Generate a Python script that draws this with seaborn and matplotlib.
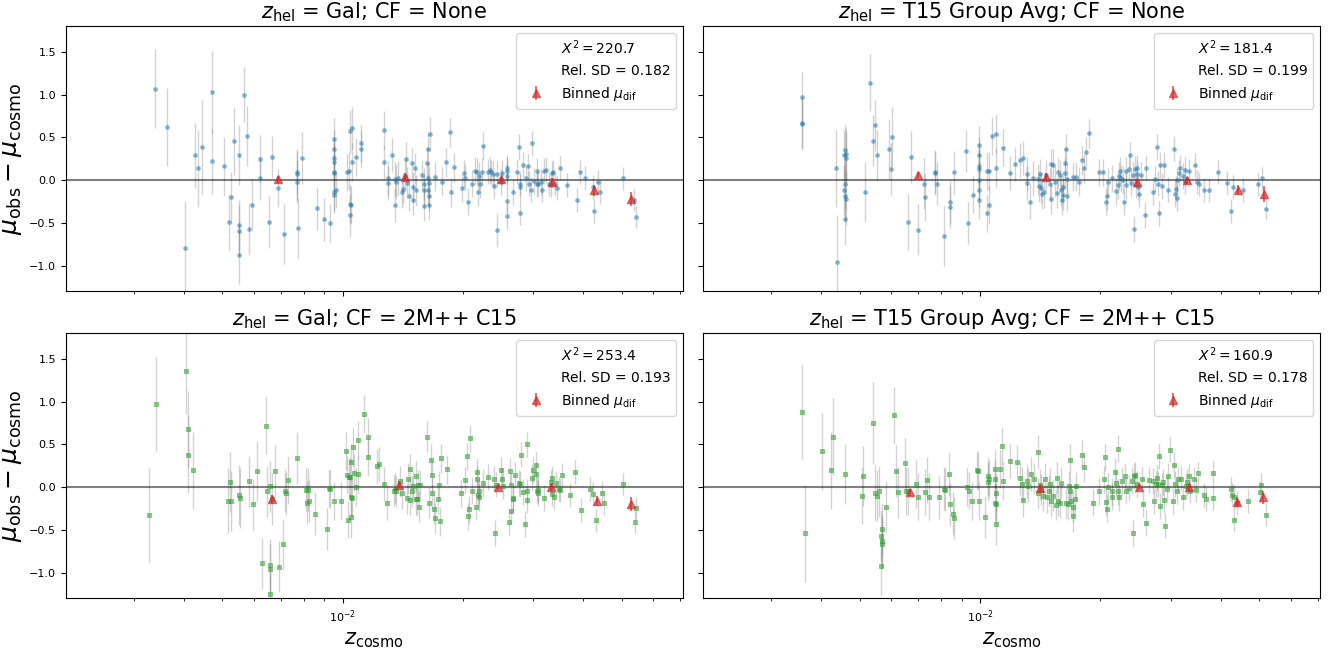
import matplotlib
matplotlib.use("Agg")
import matplotlib.pyplot as plt
import seaborn as sns
import numpy as np

# ---------------------------------------------------------------------------
# Hubble residuals: z_hel = Gal, no flow correction
z_gal_none = [
    0.00339, 0.00364, 0.00404, 0.00426, 0.00434, 0.00444, 0.00470, 0.00470, 0.00504, 0.00520,
    0.00525, 0.00536, 0.00550, 0.00550, 0.00550, 0.00550, 0.00565, 0.00575, 0.00584, 0.00592,
    0.00620, 0.00622, 0.00656, 0.00665, 0.00690, 0.00714, 0.00767, 0.00769, 0.00767, 0.00775,
    0.00792, 0.00865, 0.00897, 0.00928, 0.00954, 0.00954, 0.00954, 0.00954, 0.00954, 0.00954,
    0.00954, 0.00954, 0.00962, 0.01029, 0.01037, 0.01042, 0.01056, 0.01056, 0.01042, 0.01045,
    0.01048, 0.01081, 0.01110, 0.01110, 0.01270, 0.01267, 0.01303, 0.01303, 0.01327, 0.01352,
    0.01352, 0.01358, 0.01376, 0.01409, 0.01420, 0.01442, 0.01431, 0.01449, 0.01469, 0.01491,
    0.01499, 0.01499, 0.01515, 0.01527, 0.01583, 0.01596, 0.01604, 0.01604, 0.01625, 0.01638,
    0.01638, 0.01638, 0.01642, 0.01646, 0.01646, 0.01659, 0.01703, 0.01770, 0.01817, 0.01860,
    0.01869, 0.01904, 0.01990, 0.02016, 0.02031, 0.02058, 0.02112, 0.02145, 0.02168, 0.02184,
    0.02196, 0.02208, 0.02231, 0.02242, 0.02313, 0.02337, 0.02355, 0.02380, 0.02398, 0.02430,
    0.02442, 0.02493, 0.02513, 0.02579, 0.02586, 0.02586, 0.02586, 0.02586, 0.02675, 0.02738,
    0.02759, 0.02774, 0.02774, 0.02788, 0.02825, 0.02884, 0.02914, 0.02937, 0.02960, 0.02975,
    0.03014, 0.03061, 0.03061, 0.03093, 0.03142, 0.03167, 0.03200, 0.03233, 0.03283, 0.03318,
    0.03353, 0.03370, 0.03397, 0.03441, 0.03495, 0.03643, 0.03857, 0.03939, 0.04053, 0.04247,
    0.04257, 0.04369, 0.04403, 0.05052, 0.05378, 0.05419,
]
mu_gal_none = [
    1.07, 0.62, -0.79, 0.29, 0.14, 0.39, 1.03, 0.22, 0.16, -0.49,
    -0.20, 0.46, 0.29, -0.53, -0.59, -0.87, 1.00, 0.52, -0.57, -0.29,
    0.25, 0.02, -0.49, 0.27, -0.09, -0.63, 0.07, 0.09, -0.02, -0.56,
    0.26, -0.33, -0.46, -0.50, 0.48, 0.37, 0.26, 0.21, 0.09, 0.08,
    -0.14, -0.17, -0.11, 0.09, 0.11, 0.57, 0.61, 0.21, -0.28, -0.41,
    -0.29, 0.27, 0.43, 0.36, 0.59, 0.21, 0.02, -0.03, 0.29, -0.29,
    0.01, -0.02, 0.02, -0.14, -0.10, 0.25, 0.05, -0.03, -0.18, 0.20,
    -0.08, -0.23, 0.14, -0.12, 0.06, -0.04, -0.12, -0.30, 0.20, 0.36,
    0.02, -0.11, -0.18, -0.03, -0.29, 0.54, 0.04, -0.02, 0.21, 0.56,
    -0.14, 0.15, -0.09, 0.08, 0.03, -0.25, -0.04, 0.11, 0.10, -0.14,
    0.05, -0.05, 0.10, 0.40, 0.10, 0.12, 0.09, 0.07, -0.07, -0.58,
    0.07, -0.02, 0.08, -0.42, 0.14, 0.11, 0.05, -0.24, -0.14, 0.10,
    0.39, -0.04, -0.38, -0.08, 0.18, 0.02, 0.16, -0.04, -0.11, 0.43,
    -0.01, 0.11, -0.05, -0.04, -0.02, -0.11, 0.11, 0.12, -0.04, -0.06,
    0.08, 0.10, -0.04, -0.09, 0.14, -0.06, -0.23, 0.09, 0.02, -0.08,
    -0.36, -0.02, -0.14, 0.02, -0.23, -0.43,
]
err_gal_none = [
    0.46, 0.46, 0.55, 0.38, 0.45, 0.55, 0.48, 0.38, 0.35, 0.33,
    0.30, 0.40, 0.35, 0.30, 0.30, 0.35, 0.32, 0.35, 0.30, 0.30,
    0.28, 0.25, 0.30, 0.25, 0.22, 0.35, 0.30, 0.25, 0.25, 0.35,
    0.30, 0.25, 0.25, 0.22, 0.25, 0.22, 0.22, 0.22, 0.22, 0.22,
    0.22, 0.22, 0.22, 0.22, 0.22, 0.25, 0.25, 0.22, 0.22, 0.25,
    0.22, 0.22, 0.22, 0.22, 0.22, 0.20, 0.20, 0.20, 0.20, 0.20,
    0.20, 0.20, 0.20, 0.18, 0.18, 0.20, 0.18, 0.18, 0.18, 0.18,
    0.18, 0.18, 0.18, 0.18, 0.18, 0.18, 0.18, 0.18, 0.18, 0.20,
    0.18, 0.18, 0.18, 0.18, 0.18, 0.20, 0.17, 0.17, 0.17, 0.17,
    0.17, 0.17, 0.16, 0.16, 0.16, 0.16, 0.16, 0.16, 0.16, 0.16,
    0.16, 0.16, 0.16, 0.16, 0.15, 0.15, 0.15, 0.15, 0.15, 0.20,
    0.15, 0.15, 0.15, 0.15, 0.15, 0.15, 0.15, 0.15, 0.15, 0.15,
    0.15, 0.15, 0.15, 0.15, 0.15, 0.15, 0.15, 0.15, 0.15, 0.15,
    0.15, 0.15, 0.15, 0.15, 0.15, 0.15, 0.15, 0.15, 0.14, 0.14,
    0.14, 0.14, 0.14, 0.14, 0.14, 0.14, 0.14, 0.14, 0.14, 0.14,
    0.14, 0.14, 0.14, 0.13, 0.13, 0.13,
]
zb_gal_none = [0.00690, 0.01431, 0.02487, 0.03353, 0.04257, 0.05266]
mub_gal_none = [0.01, 0.04, 0.01, -0.02, -0.12, -0.22]
errb_gal_none = [0.04, 0.04, 0.03, 0.04, 0.06, 0.08]

# ---------------------------------------------------------------------------
# z_hel = T15 group average, no flow correction
z_grp_none = [
    0.003575, 0.003583, 0.003592, 0.004356, 0.004378, 0.004557, 0.004592, 0.004614, 0.004614, 0.004592,
    0.004568, 0.004592, 0.004614, 0.004580, 0.005152, 0.005296, 0.005403, 0.005470, 0.005526, 0.005911,
    0.005971, 0.006016, 0.006600, 0.006700, 0.007009, 0.007222, 0.007278, 0.007690, 0.007709, 0.007786,
    0.008125, 0.008414, 0.008414, 0.008606, 0.009231, 0.009301, 0.009583, 0.009950, 0.009950, 0.009950,
    0.009950, 0.009950, 0.009950, 0.009950, 0.010435, 0.010512, 0.010435, 0.010512, 0.010698, 0.010970,
    0.010970, 0.011419, 0.011885, 0.012218, 0.012620, 0.012778, 0.013070, 0.013103, 0.013335, 0.013570,
    0.013951, 0.014019, 0.014090, 0.014198, 0.014267, 0.014486, 0.014629, 0.014925, 0.015038, 0.015077,
    0.015265, 0.015417, 0.015574, 0.015654, 0.015849, 0.015929, 0.016006, 0.016128, 0.016169, 0.016293,
    0.016331, 0.016456, 0.016540, 0.016540, 0.017042, 0.017342, 0.017737, 0.018005, 0.018234, 0.018369,
    0.018694, 0.019852, 0.020356, 0.020611, 0.020768, 0.020927, 0.021400, 0.021944, 0.022111, 0.022218,
    0.022444, 0.022558, 0.022841, 0.022957, 0.023186, 0.023245, 0.023596, 0.023714, 0.023895, 0.024194,
    0.024317, 0.024434, 0.024621, 0.024746, 0.024746, 0.024871, 0.025055, 0.025310, 0.025948, 0.026014,
    0.027077, 0.027354, 0.027696, 0.027837, 0.028114, 0.028257, 0.028467, 0.028830, 0.029486, 0.030615,
    0.030692, 0.030919, 0.031076, 0.031155, 0.031465, 0.031623, 0.032263, 0.032509, 0.032666, 0.033327,
    0.034603, 0.034956, 0.035393, 0.036291, 0.037393, 0.039508, 0.041441, 0.042494, 0.042917, 0.045463,
    0.049744, 0.050881, 0.051910,
]
mu_grp_none = [
    0.97, 0.67, 0.66, 0.14, -0.96, 0.29, 0.35, 0.31, 0.26, -0.04,
    -0.12, -0.18, -0.22, -0.46, -0.14, 1.14, 0.46, 0.64, 0.29, 0.36,
    0.13, 0.50, -0.49, 0.27, -0.58, -0.04, -0.20, 0.10, 0.08, -0.04,
    -0.65, -0.26, -0.31, 0.09, 0.34, -0.50, -0.17, 0.41, 0.29, 0.17,
    0.13, 0.00, -0.11, -0.23, 0.11, 0.11, -0.39, -0.29, 0.52, 0.54,
    0.14, 0.38, 0.08, 0.19, 0.24, 0.26, 0.07, -0.03, -0.25, 0.02,
    0.01, -0.07, 0.07, -0.09, -0.16, -0.14, 0.06, -0.04, -0.22, 0.19,
    0.18, -0.02, -0.15, 0.09, 0.06, -0.12, -0.23, -0.17, -0.08, 0.20,
    0.08, 0.36, -0.18, 0.01, 0.04, 0.04, -0.02, 0.23, 0.14, 0.33,
    0.55, 0.09, 0.09, -0.25, -0.19, -0.02, 0.02, -0.13, -0.06, 0.05,
    0.11, 0.02, 0.00, -0.25, -0.06, 0.11, 0.13, 0.30, -0.03, 0.06,
    -0.57, 0.13, -0.06, 0.07, 0.14, -0.08, -0.16, 0.06, -0.41, 0.14,
    -0.14, 0.01, 0.39, -0.04, -0.39, 0.18, -0.07, 0.18, -0.11, 0.37,
    -0.16, -0.10, 0.00, -0.21, 0.08, 0.14, 0.05, 0.12, -0.01, 0.11,
    0.18, -0.02, -0.04, -0.12, -0.11, 0.10, -0.03, -0.36, -0.08, -0.11,
    -0.05, 0.02, -0.34,
]
err_grp_none = [
    0.30, 0.30, 0.30, 0.45, 0.55, 0.30, 0.30, 0.30, 0.30, 0.30,
    0.30, 0.30, 0.30, 0.30, 0.35, 0.33, 0.30, 0.30, 0.30, 0.35,
    0.30, 0.35, 0.33, 0.30, 0.30, 0.30, 0.28, 0.25, 0.25, 0.25,
    0.35, 0.25, 0.25, 0.25, 0.25, 0.25, 0.22, 0.22, 0.22, 0.22,
    0.22, 0.22, 0.22, 0.22, 0.22, 0.22, 0.22, 0.22, 0.22, 0.22,
    0.22, 0.22, 0.20, 0.20, 0.20, 0.20, 0.20, 0.20, 0.20, 0.20,
    0.18, 0.18, 0.18, 0.18, 0.18, 0.18, 0.18, 0.18, 0.18, 0.18,
    0.18, 0.18, 0.18, 0.18, 0.18, 0.18, 0.18, 0.18, 0.18, 0.18,
    0.18, 0.18, 0.18, 0.18, 0.17, 0.17, 0.17, 0.17, 0.17, 0.17,
    0.17, 0.16, 0.16, 0.16, 0.16, 0.16, 0.16, 0.16, 0.16, 0.16,
    0.16, 0.16, 0.16, 0.16, 0.16, 0.16, 0.15, 0.15, 0.15, 0.15,
    0.15, 0.15, 0.15, 0.15, 0.15, 0.15, 0.15, 0.15, 0.15, 0.15,
    0.15, 0.15, 0.15, 0.15, 0.15, 0.15, 0.15, 0.15, 0.15, 0.15,
    0.15, 0.15, 0.15, 0.15, 0.15, 0.15, 0.15, 0.15, 0.15, 0.14,
    0.14, 0.14, 0.14, 0.14, 0.14, 0.14, 0.14, 0.14, 0.14, 0.14,
    0.13, 0.13, 0.13,
]
zb_grp_none = [0.006974, 0.014592, 0.024746, 0.032999, 0.044116, 0.051399]
mub_grp_none = [0.06, 0.04, -0.02, 0.00, -0.11, -0.16]
errb_grp_none = [0.04, 0.04, 0.03, 0.04, 0.05, 0.09]

# ---------------------------------------------------------------------------
# z_hel = Gal, 2M++ C15 flow correction
z_gal_2mpp = [
    0.00328, 0.00342, 0.00406, 0.00411, 0.00411, 0.00422, 0.00517, 0.00523, 0.00525, 0.00552,
    0.00555, 0.00584, 0.00598, 0.00612, 0.00628, 0.00643, 0.00648, 0.00657, 0.00657, 0.00657,
    0.00660, 0.00665, 0.00676, 0.00692, 0.00710, 0.00719, 0.00723, 0.00730, 0.00769, 0.00810,
    0.00819, 0.00815, 0.00825, 0.00854, 0.00916, 0.00923, 0.00928, 0.00952, 0.00992, 0.01021,
    0.01024, 0.01034, 0.01037, 0.01045, 0.01050, 0.01053, 0.01053, 0.01056, 0.01062, 0.01067,
    0.01081, 0.01095, 0.01095, 0.01133, 0.01156, 0.01156, 0.01221, 0.01237, 0.01270, 0.01293,
    0.01348, 0.01355, 0.01362, 0.01394, 0.01409, 0.01446, 0.01461, 0.01472, 0.01476, 0.01491,
    0.01503, 0.01523, 0.01531, 0.01535, 0.01547, 0.01551, 0.01559, 0.01629, 0.01642, 0.01663,
    0.01672, 0.01677, 0.01698, 0.01707, 0.01738, 0.01747, 0.01752, 0.01761, 0.01831, 0.01979,
    0.02031, 0.02047, 0.02058, 0.02069, 0.02090, 0.02112, 0.02156, 0.02168, 0.02173, 0.02179,
    0.02190, 0.02201, 0.02248, 0.02313, 0.02392, 0.02405, 0.02417, 0.02493, 0.02507, 0.02526,
    0.02606, 0.02633, 0.02640, 0.02647, 0.02668, 0.02675, 0.02696, 0.02759, 0.02788, 0.02803,
    0.02825, 0.02862, 0.02899, 0.02899, 0.02891, 0.02975, 0.03006, 0.03046, 0.03054, 0.03061,
    0.03078, 0.03093, 0.03200, 0.03335, 0.03353, 0.03353, 0.03388, 0.03423, 0.03476, 0.03513,
    0.03550, 0.03710, 0.03817, 0.03949, 0.04170, 0.04247, 0.04302, 0.04461, 0.04519, 0.05039,
    0.05405, 0.05434,
]
mu_gal_2mpp = [
    -0.33, 0.97, 1.36, 0.68, 0.38, 0.20, -0.16, 0.06, -0.16, -0.09,
    -0.13, 0.07, -0.20, 0.19, -0.89, 0.72, -0.05, -0.91, -0.96, -1.25,
    0.01, -0.14, 0.19, -0.93, -0.67, -0.04, -0.07, 0.08, 0.34, -0.03,
    -0.03, -0.18, -0.16, -0.31, -0.49, -0.01, -0.02, -0.16, -0.16, 0.42,
    0.14, -0.38, 0.12, 0.12, -0.35, 0.29, -0.11, -0.13, 0.47, 0.17,
    0.00, 0.15, 0.55, 0.86, 0.59, 0.35, 0.25, 0.27, 0.04, -0.18,
    -0.04, -0.01, -0.05, 0.07, -0.07, -0.13, 0.10, 0.21, -0.15, -0.05,
    0.01, -0.14, 0.13, -0.14, 0.02, -0.23, 0.02, 0.59, -0.18, 0.32,
    0.14, -0.07, -0.25, -0.36, -0.14, 0.02, -0.40, 0.34, 0.21, -0.07,
    0.08, 0.36, -0.34, -0.26, 0.57, -0.04, -0.23, 0.18, 0.09, -0.09,
    -0.12, -0.05, 0.05, 0.12, 0.10, -0.54, 0.03, 0.20, 0.09, 0.01,
    -0.41, 0.19, -0.28, 0.02, -0.13, -0.14, 0.14, 0.05, 0.04, 0.38,
    -0.06, -0.43, 0.50, -0.15, -0.05, 0.11, 0.20, 0.26, 0.15, -0.04,
    -0.07, -0.02, -0.13, 0.06, 0.11, -0.08, -0.12, 0.05, -0.02, -0.03,
    0.14, -0.09, 0.18, -0.27, -0.02, -0.08, -0.38, -0.07, -0.19, 0.04,
    -0.41, -0.24,
]
err_gal_2mpp = [
    0.55, 0.55, 0.50, 0.45, 0.45, 0.45, 0.38, 0.35, 0.35, 0.35,
    0.35, 0.30, 0.30, 0.35, 0.30, 0.33, 0.30, 0.30, 0.30, 0.30,
    0.30, 0.30, 0.30, 0.30, 0.30, 0.25, 0.25, 0.28, 0.30, 0.25,
    0.25, 0.25, 0.25, 0.25, 0.25, 0.22, 0.22, 0.22, 0.22, 0.22,
    0.22, 0.22, 0.22, 0.22, 0.25, 0.22, 0.22, 0.22, 0.22, 0.22,
    0.22, 0.22, 0.22, 0.22, 0.22, 0.22, 0.20, 0.20, 0.20, 0.20,
    0.18, 0.18, 0.18, 0.18, 0.18, 0.18, 0.18, 0.18, 0.18, 0.18,
    0.18, 0.18, 0.18, 0.18, 0.18, 0.18, 0.18, 0.18, 0.18, 0.18,
    0.18, 0.18, 0.18, 0.18, 0.17, 0.17, 0.17, 0.17, 0.17, 0.16,
    0.16, 0.16, 0.16, 0.16, 0.16, 0.16, 0.16, 0.16, 0.16, 0.16,
    0.16, 0.16, 0.16, 0.15, 0.15, 0.15, 0.15, 0.15, 0.15, 0.15,
    0.15, 0.15, 0.15, 0.15, 0.15, 0.15, 0.15, 0.15, 0.15, 0.15,
    0.15, 0.15, 0.15, 0.15, 0.15, 0.15, 0.15, 0.15, 0.15, 0.15,
    0.15, 0.15, 0.15, 0.14, 0.14, 0.14, 0.14, 0.14, 0.14, 0.14,
    0.14, 0.14, 0.14, 0.14, 0.14, 0.14, 0.14, 0.14, 0.14, 0.13,
    0.13, 0.13,
]
zb_gal_2mpp = [0.00665, 0.01387, 0.02455, 0.03335, 0.04335, 0.05281]
mub_gal_2mpp = [-0.14, 0.03, 0.00, 0.00, -0.16, -0.20]
errb_gal_2mpp = [0.05, 0.04, 0.03, 0.04, 0.06, 0.08]

# ---------------------------------------------------------------------------
# z_hel = T15 group average, 2M++ C15 flow correction
z_grp_2mpp = [
    0.003575, 0.003638, 0.004030, 0.004238, 0.004280, 0.004580, 0.005075, 0.005101, 0.005403, 0.005444,
    0.005512, 0.005581, 0.005652, 0.005666, 0.005666, 0.005694, 0.005652, 0.005809, 0.006092, 0.006153,
    0.006231, 0.006469, 0.006517, 0.006600, 0.006904, 0.006991, 0.007278, 0.007369, 0.007461, 0.007904,
    0.008104, 0.008185, 0.008372, 0.008414, 0.008541, 0.008628, 0.009277, 0.009393, 0.009559, 0.009826,
    0.009900, 0.009950, 0.010304, 0.010461, 0.010512, 0.010488, 0.010914, 0.010914, 0.010942, 0.010914,
    0.010942, 0.010942, 0.011220, 0.011361, 0.011390, 0.011853, 0.012340, 0.012620, 0.012714, 0.012778,
    0.013070, 0.013170, 0.013403, 0.013674, 0.013951, 0.013951, 0.014090, 0.014198, 0.014376, 0.014555,
    0.014666, 0.014850, 0.014962, 0.015038, 0.015226, 0.015456, 0.015614, 0.015693, 0.015849, 0.015929,
    0.016414, 0.016582, 0.016662, 0.016747, 0.016788, 0.016916, 0.017042, 0.017042, 0.017298, 0.017386,
    0.018005, 0.018234, 0.019170, 0.019903, 0.020408, 0.020559, 0.020716, 0.020768, 0.020927, 0.021346,
    0.021454, 0.021777, 0.021888, 0.022111, 0.022167, 0.022331, 0.022726, 0.023015, 0.023245, 0.023596,
    0.023950, 0.024133, 0.024317, 0.024496, 0.024746, 0.025498, 0.025627, 0.026080, 0.026540, 0.027077,
    0.027285, 0.027556, 0.027767, 0.027908, 0.028114, 0.028257, 0.028467, 0.028684, 0.028830, 0.028973,
    0.029411, 0.029561, 0.029931, 0.030383, 0.030615, 0.030841, 0.031076, 0.031313, 0.031864, 0.032263,
    0.032749, 0.032999, 0.033327, 0.033497, 0.034262, 0.034779, 0.035044, 0.036291, 0.036837, 0.038247,
    0.038247, 0.042387, 0.042808, 0.043135, 0.043351, 0.043893, 0.046738, 0.050251, 0.050624, 0.051910,
]
mu_grp_2mpp = [
    0.88, -0.54, 0.42, 0.20, 0.59, 0.15, -0.10, 0.13, 0.75, -0.07,
    -0.10, -0.05, -0.57, -0.49, -0.63, -0.66, -0.92, -0.23, 0.84, 0.19,
    -0.06, 0.28, -0.05, -0.04, 0.04, -0.11, -0.06, 0.08, -0.11, -0.12,
    -0.02, -0.03, 0.15, -0.20, -0.31, -0.36, 0.00, -0.04, -0.16, 0.20,
    0.19, -0.16, -0.35, 0.13, 0.10, 0.06, 0.21, 0.10, -0.07, -0.18,
    -0.20, -0.43, 0.21, 0.48, 0.07, 0.31, 0.29, 0.11, 0.04, -0.15,
    0.07, 0.01, 0.15, 0.10, 0.41, -0.07, 0.03, -0.03, -0.10, 0.10,
    -0.12, -0.04, 0.04, -0.16, -0.10, -0.21, 0.11, -0.16, -0.18, 0.05,
    -0.19, -0.20, 0.01, 0.32, -0.05, -0.16, -0.34, -0.23, -0.14, 0.01,
    0.38, 0.23, -0.18, -0.05, 0.09, 0.35, -0.17, -0.25, 0.00, -0.05,
    -0.11, 0.18, 0.05, -0.05, 0.45, -0.12, 0.07, 0.13, -0.04, -0.01,
    0.07, -0.54, 0.13, 0.14, 0.04, 0.09, -0.20, -0.42, 0.08, 0.07,
    -0.16, 0.04, 0.11, 0.04, 0.36, -0.22, 0.02, 0.06, -0.15, -0.45,
    -0.02, 0.13, 0.44, -0.16, 0.26, 0.04, -0.05, 0.09, 0.10, -0.12,
    0.01, 0.06, 0.13, -0.05, 0.10, -0.03, 0.16, -0.09, -0.14, -0.13,
    0.17, -0.02, -0.09, -0.38, -0.12, -0.18, -0.16, -0.06, 0.03, -0.32,
]
err_grp_2mpp = [
    0.55, 0.57, 0.45, 0.45, 0.45, 0.35, 0.33, 0.35, 0.48, 0.33,
    0.30, 0.30, 0.30, 0.30, 0.30, 0.30, 0.35, 0.30, 0.33, 0.30,
    0.30, 0.30, 0.28, 0.28, 0.28, 0.27, 0.27, 0.27, 0.27, 0.25,
    0.25, 0.25, 0.25, 0.25, 0.25, 0.25, 0.22, 0.22, 0.22, 0.22,
    0.22, 0.22, 0.25, 0.22, 0.22, 0.22, 0.22, 0.22, 0.22, 0.22,
    0.22, 0.25, 0.22, 0.22, 0.22, 0.20, 0.20, 0.20, 0.20, 0.20,
    0.20, 0.20, 0.20, 0.18, 0.20, 0.18, 0.18, 0.18, 0.18, 0.18,
    0.18, 0.18, 0.18, 0.18, 0.18, 0.18, 0.18, 0.18, 0.18, 0.18,
    0.18, 0.18, 0.18, 0.18, 0.18, 0.18, 0.18, 0.18, 0.17, 0.17,
    0.17, 0.17, 0.16, 0.16, 0.16, 0.16, 0.16, 0.16, 0.16, 0.16,
    0.16, 0.16, 0.16, 0.16, 0.16, 0.16, 0.16, 0.15, 0.15, 0.15,
    0.15, 0.15, 0.15, 0.15, 0.15, 0.15, 0.15, 0.15, 0.15, 0.15,
    0.15, 0.15, 0.15, 0.15, 0.15, 0.15, 0.15, 0.15, 0.15, 0.15,
    0.15, 0.15, 0.15, 0.15, 0.15, 0.15, 0.15, 0.15, 0.15, 0.15,
    0.15, 0.15, 0.14, 0.14, 0.14, 0.14, 0.14, 0.14, 0.14, 0.14,
    0.14, 0.14, 0.14, 0.14, 0.14, 0.14, 0.14, 0.13, 0.13, 0.13,
]
zb_grp_2mpp = [0.006666, 0.014162, 0.024929, 0.033412, 0.043893, 0.051010]
mub_grp_2mpp = [-0.06, -0.01, 0.00, 0.00, -0.17, -0.12]
errb_grp_2mpp = [0.04, 0.04, 0.03, 0.04, 0.06, 0.08]

# Fit statistics shown in each legend
chi2_values = [220.7, 181.4, 253.4, 160.9]
rel_sd_values = [0.182, 0.199, 0.193, 0.178]

zhel_labels = ["Gal", "T15 Group Avg", "Gal", "T15 Group Avg"]
cf_labels = ["None", "None", "2M++ C15", "2M++ C15"]

# ---------------------------------------------------------------------------
panels = [
    (z_gal_none, mu_gal_none, err_gal_none, zb_gal_none, mub_gal_none, errb_gal_none),
    (z_grp_none, mu_grp_none, err_grp_none, zb_grp_none, mub_grp_none, errb_grp_none),
    (z_gal_2mpp, mu_gal_2mpp, err_gal_2mpp, zb_gal_2mpp, mub_gal_2mpp, errb_gal_2mpp),
    (z_grp_2mpp, mu_grp_2mpp, err_grp_2mpp, zb_grp_2mpp, mub_grp_2mpp, errb_grp_2mpp),
]

plt.rcParams["font.family"] = ["DejaVu Sans"]
plt.rcParams["xtick.labelsize"] = 8
plt.rcParams["ytick.labelsize"] = 8

fig, axes = plt.subplots(2, 2, figsize=(13.35, 6.54), dpi=100, sharex=True, sharey=True)
fig.subplots_adjust(left=0.0494, right=0.989, top=0.9598, bottom=0.0852,
                    wspace=0.0336, hspace=0.1585)

for i, ax in enumerate(axes.flat):
    z, mu, err, zb, mub, errb = panels[i]
    top_row = i < 2

    ax.errorbar(z, mu, yerr=err, fmt="none", ecolor="gray", alpha=0.35,
                elinewidth=1.0, zorder=1)
    ax.axhline(0.0, color="k", alpha=0.5, lw=1.5, zorder=2)
    if top_row:
        sns.scatterplot(x=z, y=mu, ax=ax, color="C0", marker="o", s=11,
                        alpha=0.55, linewidth=0, legend=False, zorder=3)
    else:
        sns.scatterplot(x=z, y=mu, ax=ax, color="C2", marker="s", s=10,
                        alpha=0.55, edgecolor="C2", linewidth=0.6,
                        legend=False, zorder=3)

    h_chi, = ax.plot([], [], " ", label=rf"$X^2 = {chi2_values[i]}$")
    h_sd, = ax.plot([], [], " ", label=f"Rel. SD = {rel_sd_values[i]}")
    h_bin = ax.errorbar(zb, mub, yerr=errb, fmt="^", color="C3", alpha=0.65,
                        ms=6, elinewidth=1.5, zorder=4,
                        label=r"Binned $\mu_{\rm dif}$")
    ax.legend(handles=[h_chi, h_sd, h_bin], loc="upper right", fontsize=10)

    ax.set_title(rf"$z_{{\rm hel}}$ = {zhel_labels[i]}; CF = {cf_labels[i]}",
                 fontsize=15)
    ax.set_xscale("log")
    ax.set_xlim(0.00203, 0.0711)
    ax.set_ylim(-1.30, 1.80)
    ax.set_xlabel("")
    ax.set_ylabel("")
    if i % 2 == 0:
        ax.set_ylabel(r"$\mu_{\rm obs} - \mu_{\rm cosmo}$", fontsize=18)
    if not top_row:
        ax.set_xlabel(r"$z_{\rm cosmo}$", fontsize=15)

fig.savefig("out.png", dpi=100)
